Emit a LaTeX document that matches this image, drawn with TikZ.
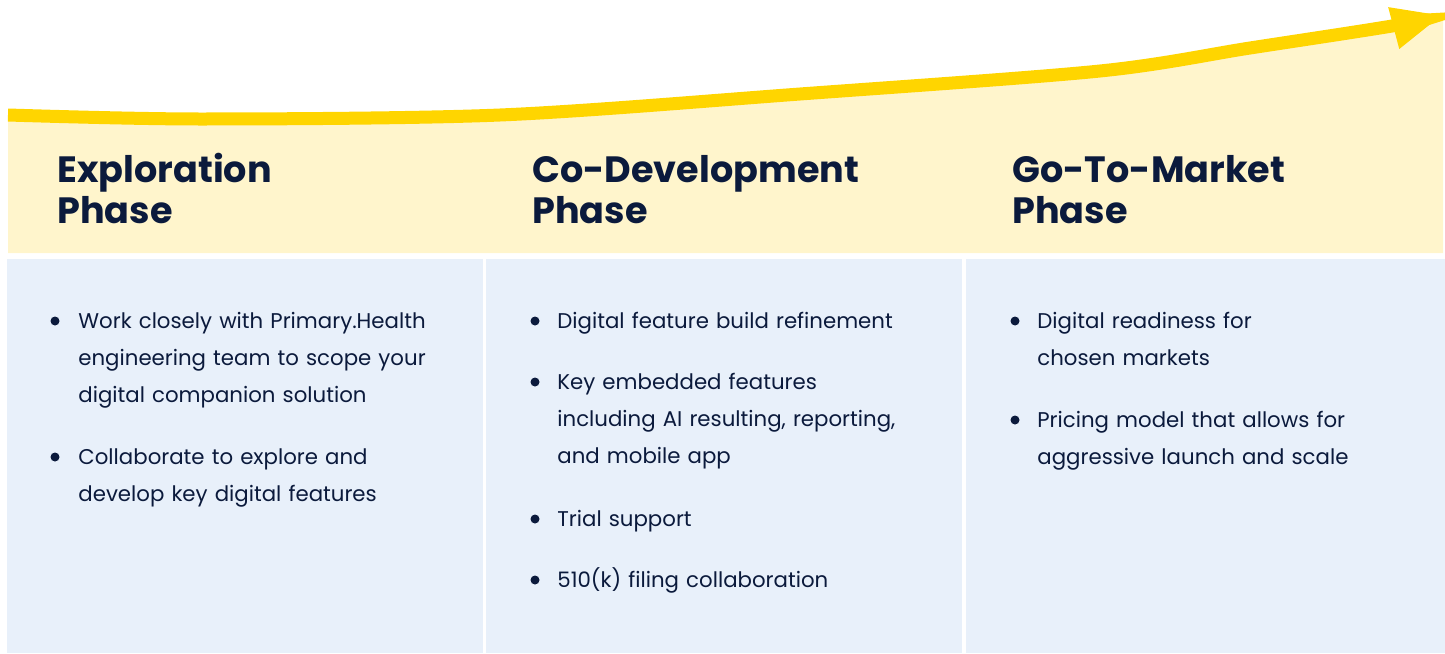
\documentclass[tikz,border=0pt]{standalone}
\usepackage{fontspec}
\setmainfont{Poppins}
\usetikzlibrary{arrows.meta}
\definecolor{navy}{HTML}{0B1A3C}
\definecolor{sun}{HTML}{FFD500}
\definecolor{cream}{HTML}{FFF5CC}
\definecolor{panel}{HTML}{E8F0FA}
\begin{document}
\begin{tikzpicture}[x=0.5pt, y=-0.5pt,
	phase/.style={anchor=base west, text=navy, text width=250pt, align=left, inner sep=0pt,
		font={\fontsize{18.3}{20.5}\selectfont\bfseries}},
	item/.style={anchor=base west, text=navy, text width=210pt, align=left, inner sep=0pt,
		font={\fontsize{10.65}{18.5}\selectfont}},
	dot/.style={circle, fill=navy, inner sep=0pt, minimum size=4.5pt}]
	\useasboundingbox (0, 0) rectangle (1445, 653);

	\fill[cream] plot[smooth] coordinates {(8, 115) (200, 119) (500, 115) (800, 94) (1100, 71) (1250, 48) (1392, 26) (1443, 15)}
		-- (1443, 253) -- (8, 253) -- cycle;
	\draw[sun, line width=6.5pt, -{Triangle[length=25.5pt, width=19.5pt]}]
		plot[smooth] coordinates {(8, 115) (200, 119) (500, 115) (800, 94) (1100, 71) (1250, 48) (1392, 26) (1443, 15)};

	\fill[panel] (7, 259) rectangle (483, 653);
	\fill[panel] (486, 259) rectangle (962, 653);
	\fill[panel] (966, 259) rectangle (1445, 653);

	\node[phase] (explore) at (57, 182) {Exploration\\Phase};
	\node[phase] (codev) at (532, 182) {Co-Development\\Phase};
	\node[phase] (market) at (1012, 182) {Go-To-Market\\Phase};

	\node[dot] (d1) at (55, 321) {};
	\node[item] (t1) at (78, 328) {Work closely with Primary.Health\\engineering team to scope your\\digital companion solution};
	\node[dot] (d2) at (55, 457) {};
	\node[item] (t2) at (78, 464) {Collaborate to explore and\\develop key digital features};

	\node[dot] (d3) at (535, 321) {};
	\node[item] (t3) at (557, 328) {Digital feature build refinement};
	\node[dot] (d4) at (535, 382) {};
	\node[item] (t4) at (557, 389) {Key embedded features\\including AI resulting, reporting,\\and mobile app};
	\node[dot] (d5) at (535, 519) {};
	\node[item] (t5) at (557, 526) {Trial support};
	\node[dot] (d6) at (535, 580) {};
	\node[item] (t6) at (557, 587) {510(k) filing collaboration};

	\node[dot] (d7) at (1015, 321) {};
	\node[item] (t7) at (1037, 328) {Digital readiness for\\chosen markets};
	\node[dot] (d8) at (1015, 420) {};
	\node[item] (t8) at (1037, 427) {Pricing model that allows for\\aggressive launch and scale};

\end{tikzpicture}
\end{document}
